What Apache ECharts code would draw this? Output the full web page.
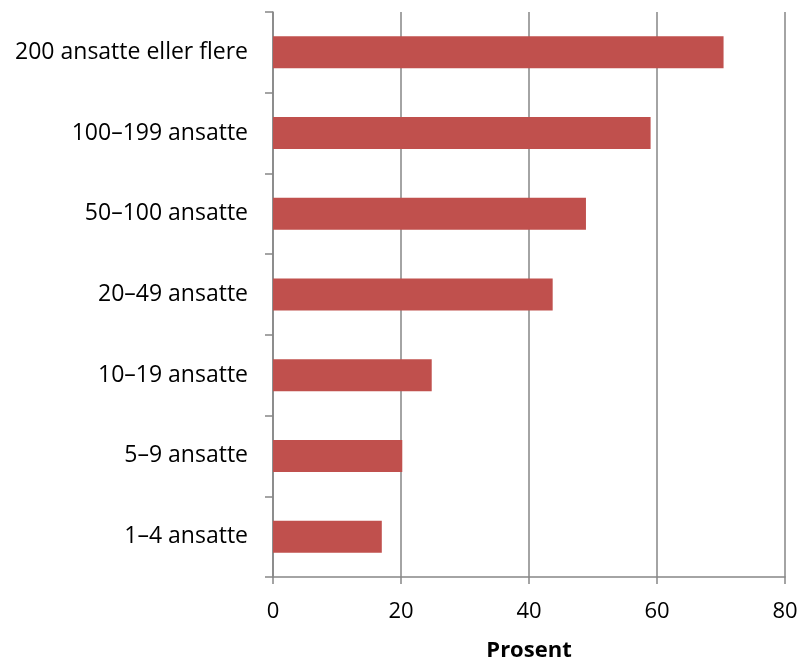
<!DOCTYPE html>
<html>
<head>
<meta charset="utf-8">
<script src="https://cdn.jsdelivr.net/npm/echarts@6/dist/echarts.min.js"></script>
<style>html,body{margin:0;padding:0;background:#fff}#c{width:800px;height:661px}</style>
</head>
<body>
<div id="c"></div>
<script>
const categories = ['1–4 ansatte','5–9 ansatte','10–19 ansatte','20–49 ansatte','50–100 ansatte','100–199 ansatte','200 ansatte eller flere'];
const values = [17.0, 20.2, 24.8, 43.7, 48.9, 59.0, 70.4];
const xTicks = [0, 20, 40, 60, 80];
const xTitle = 'Prosent';

const chart = echarts.init(document.getElementById('c'), null, {renderer:'canvas'});
const gray = '#868686';
const font = '"Open Sans", Lato, sans-serif';
chart.setOption({
  animation:false,
  grid:{left:273, right:15, top:12, bottom:84, containLabel:false, outerBoundsMode:'none'},
  xAxis:{
    type:'value', min:xTicks[0], max:xTicks[xTicks.length-1], interval:20,
    name:xTitle, nameLocation:'middle', nameGap:63,
    nameTextStyle:{fontFamily:font, fontSize:22, fontWeight:'bold', color:'#000'},
    axisLine:{show:true, lineStyle:{color:gray, width:1.5}},
    axisTick:{show:true, length:7, lineStyle:{color:gray, width:1.5}},
    axisLabel:{fontFamily:font, fontSize:22, color:'#000', margin:24},
    splitLine:{show:true, lineStyle:{color:gray, width:1.5}}
  },
  yAxis:{
    type:'category', data:categories,
    axisLine:{show:true, lineStyle:{color:gray, width:1.5}},
    axisTick:{show:true, length:8, lineStyle:{color:gray, width:1.5}},
    axisLabel:{fontFamily:font, fontSize:23, color:'#000', margin:25},
    splitLine:{show:false}
  },
  series:[{
    type:'bar', data:values, barWidth:32,
    itemStyle:{color:'#C0504D'}
  }]
});
</script>
</body>
</html>
